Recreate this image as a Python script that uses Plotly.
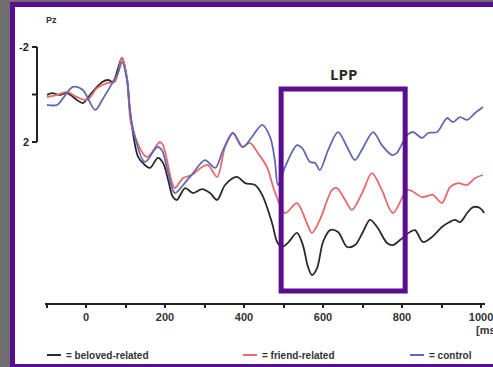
import plotly.graph_objects as go

# ---- data (time in ms, amplitude in µV; negative plotted up) ----
t_beloved = [-99, -86, -66, -48, -23, -8, 10, 28, 41, 56, 68, 91, 104, 111, 132, 149, 162, 182, 195, 208, 220, 230, 251, 271, 294, 314, 332, 352, 382, 403, 428, 446, 471, 484, 496, 511, 534, 549, 562, 572, 585, 600, 618, 638, 661, 681, 701, 719, 737, 762, 777, 795, 820, 833, 853, 876, 901, 916, 934, 947, 965, 980, 997, 1008]
v_beloved = [0.02, -0.06, 0.02, -0.06, 0.23, 0.36, 0.02, -0.32, -0.53, -0.61, -0.53, -1.54, -0.61, 0.65, 2.63, 2.97, 3.09, 2.67, 2.88, 3.60, 4.32, 4.44, 3.94, 4.15, 3.98, 4.15, 4.44, 3.81, 3.47, 3.73, 3.81, 4.23, 5.41, 6.21, 6.42, 6.25, 5.83, 6.34, 7.26, 7.60, 7.31, 6.21, 5.71, 5.79, 6.42, 6.34, 5.79, 5.28, 5.58, 6.25, 6.34, 6.13, 5.79, 5.71, 6.21, 6.00, 5.58, 5.41, 5.28, 5.37, 4.99, 4.74, 4.78, 4.99]

t_friend = [-99, -73, -48, -23, 3, 28, 53, 73, 91, 104, 116, 154, 187, 195, 218, 225, 246, 268, 294, 309, 332, 352, 372, 395, 415, 435, 458, 478, 504, 534, 559, 572, 592, 623, 635, 656, 673, 699, 724, 749, 777, 815, 851, 878, 901, 922, 942, 965, 985, 1005]
v_friend = [0.11, 0.02, -0.11, 0.11, 0.23, -0.27, -0.48, -0.53, -1.54, -0.69, 1.37, 2.63, 2.00, 2.13, 3.73, 3.94, 3.52, 3.39, 3.05, 2.97, 3.47, 2.21, 1.62, 2.21, 2.04, 2.46, 3.05, 4.10, 4.99, 4.57, 5.41, 5.83, 5.28, 4.02, 3.94, 4.44, 4.86, 4.15, 3.31, 4.02, 4.99, 4.02, 4.32, 4.23, 4.57, 3.89, 3.73, 3.81, 3.52, 3.39]

t_control = [-99, -73, -58, -33, -8, 23, 41, 61, 81, 91, 104, 116, 149, 180, 192, 208, 225, 246, 271, 301, 327, 347, 372, 397, 420, 446, 466, 478, 486, 504, 534, 547, 567, 580, 592, 613, 638, 661, 681, 701, 727, 749, 775, 787, 813, 828, 851, 866, 889, 914, 929, 947, 965, 985, 1005]
v_control = [0.44, 0.44, 0.15, -0.32, -0.19, 0.65, 0.23, -0.32, -0.91, -1.37, -0.61, 1.20, 2.84, 2.21, 2.34, 3.31, 4.15, 3.81, 3.31, 2.76, 3.09, 2.34, 1.62, 2.21, 1.79, 1.28, 1.79, 2.76, 3.81, 3.05, 2.13, 2.25, 2.84, 2.88, 3.18, 2.34, 1.58, 2.21, 2.76, 2.25, 1.58, 2.13, 2.55, 2.46, 1.71, 1.58, 1.83, 1.62, 1.58, 0.99, 1.16, 0.95, 1.07, 0.78, 0.53]

x_ticks = [0, 200, 400, 600, 800, 1000]
x_minor = [-100, 100, 300, 500, 700, 900]
y_ticks = [-2, 0, 2]
y_tick_labels = ["-2", "", "2"]
lpp_window = [494, 808]
legend_labels = ["= beloved-related", "= friend-related", "= control"]

colors = ["#2a2a2a", "#e8696b", "#6068b4"]
purple = "#5a0d8e"
FONT = "Liberation Sans, Arial, sans-serif"

W, H = 493, 367
L, R, T, B = 45, 8, 40, 64
PW, PH = W - L - R, H - T - B


def px(x):
    return (x - L) / PW


def py(y):
    return (H - B - y) / PH


fig = go.Figure()
for t, v, c, name in zip([t_beloved, t_friend, t_control], [v_beloved, v_friend, v_control], colors, legend_labels):
    fig.add_trace(go.Scatter(x=t, y=v, mode="lines", line=dict(color=c, width=1.8, shape="spline", smoothing=0.9),
                             name=name, showlegend=False, hoverinfo="skip"))

shapes = []
# outer frame
shapes.append(dict(type="rect", xref="paper", yref="paper", x0=px(-2), x1=px(10), y0=py(H + 2), y1=py(-2),
                   fillcolor="#6f6f6f", line=dict(width=0), layer="above"))
shapes.append(dict(type="rect", xref="paper", yref="paper", x0=px(10), x1=px(15), y0=py(H + 2), y1=py(2),
                   fillcolor=purple, line=dict(width=0), layer="above"))
shapes.append(dict(type="rect", xref="paper", yref="paper", x0=px(-2), x1=px(W + 2), y0=py(2), y1=py(-2),
                   fillcolor="#6f6f6f", line=dict(width=0), layer="above"))
shapes.append(dict(type="rect", xref="paper", yref="paper", x0=px(10), x1=px(W + 2), y0=py(7), y1=py(2),
                   fillcolor=purple, line=dict(width=0), layer="above"))
shapes.append(dict(type="rect", xref="paper", yref="paper", x0=px(10), x1=px(W + 2), y0=py(H + 2), y1=py(364),
                   fillcolor=purple, line=dict(width=0), layer="above"))

# custom y bracket
shapes.append(dict(type="line", xref="paper", yref="y", x0=px(37), x1=px(37), y0=y_ticks[0], y1=y_ticks[-1],
                   line=dict(color="#222", width=2)))
for yt in y_ticks:
    shapes.append(dict(type="line", xref="paper", yref="y", x0=px(32), x1=px(37), y0=yt, y1=yt,
                       line=dict(color="#222", width=2)))

# LPP box
shapes.append(dict(type="rect", xref="x", yref="paper", x0=lpp_window[0], x1=lpp_window[1], y0=py(291), y1=py(89),
                   line=dict(color=purple, width=5), fillcolor="rgba(0,0,0,0)", layer="above"))

# legend line samples
leg_x = [(47, 61), (243, 257), (410, 424)]
for (a, b), c in zip(leg_x, colors):
    shapes.append(dict(type="line", xref="paper", yref="paper", x0=px(a), x1=px(b), y0=py(355), y1=py(355),
                       line=dict(color=c, width=2)))

annotations = []
for yt, lab in zip(y_ticks, y_tick_labels):
    if lab:
        annotations.append(dict(x=px(31), y=yt, xref="paper", yref="y", text="<b>%s</b>" % lab, showarrow=False,
                                xanchor="right", yanchor="middle", font=dict(family=FONT, size=11, color="#222")))
annotations.append(dict(x=px(44), y=py(20), xref="paper", yref="paper", text="<b>Pz</b>", showarrow=False,
                        xanchor="left", yanchor="middle", font=dict(family=FONT, size=9, color="#333")))
annotations.append(dict(x=(lpp_window[0] + lpp_window[1]) / 2, y=py(74), xref="x", yref="paper", text="<b>LPP</b>",
                        showarrow=False, xanchor="center", yanchor="middle",
                        font=dict(family="Open Sans, sans-serif", size=15, color="#2b2b2b")))
annotations.append(dict(x=px(474), y=py(330), xref="paper", yref="paper", text="<b>[ms]</b>", showarrow=False,
                        xanchor="left", yanchor="middle", font=dict(family=FONT, size=11, color="#333")))
for (a, b), lab in zip(leg_x, legend_labels):
    annotations.append(dict(x=px(b + 3), y=py(355), xref="paper", yref="paper", text="<b>%s</b>" % lab,
                            showarrow=False, xanchor="left", yanchor="middle",
                            font=dict(family=FONT, size=10, color="#333")))

fig.update_layout(
    width=W, height=H,
    margin=dict(l=L, r=R, t=T, b=B, pad=0, autoexpand=False),
    paper_bgcolor="white", plot_bgcolor="white",
    shapes=shapes, annotations=annotations, showlegend=False,
    xaxis=dict(range=[-103.8, 1010.1], showgrid=False, zeroline=False, showline=True, linecolor="#222", linewidth=2,
               tickvals=x_ticks, ticktext=["<b>%d</b>" % v for v in x_ticks], ticks="outside", ticklen=3,
               tickwidth=2, tickcolor="#222", tickfont=dict(family=FONT, size=11, color="#333"),
               ticklabeloverflow="allow", automargin=False,
               minor=dict(tickvals=x_minor, ticks="outside", ticklen=3, tickwidth=2, tickcolor="#222")),
    yaxis=dict(range=[8.779, -2.295], showgrid=False, zeroline=False, showline=False, showticklabels=False,
               ticks="", automargin=False),
)

fig.write_html("out.html", config={"displayModeBar": False},
               post_script="document.body.style.margin='0';document.body.style.overflow='hidden';")
